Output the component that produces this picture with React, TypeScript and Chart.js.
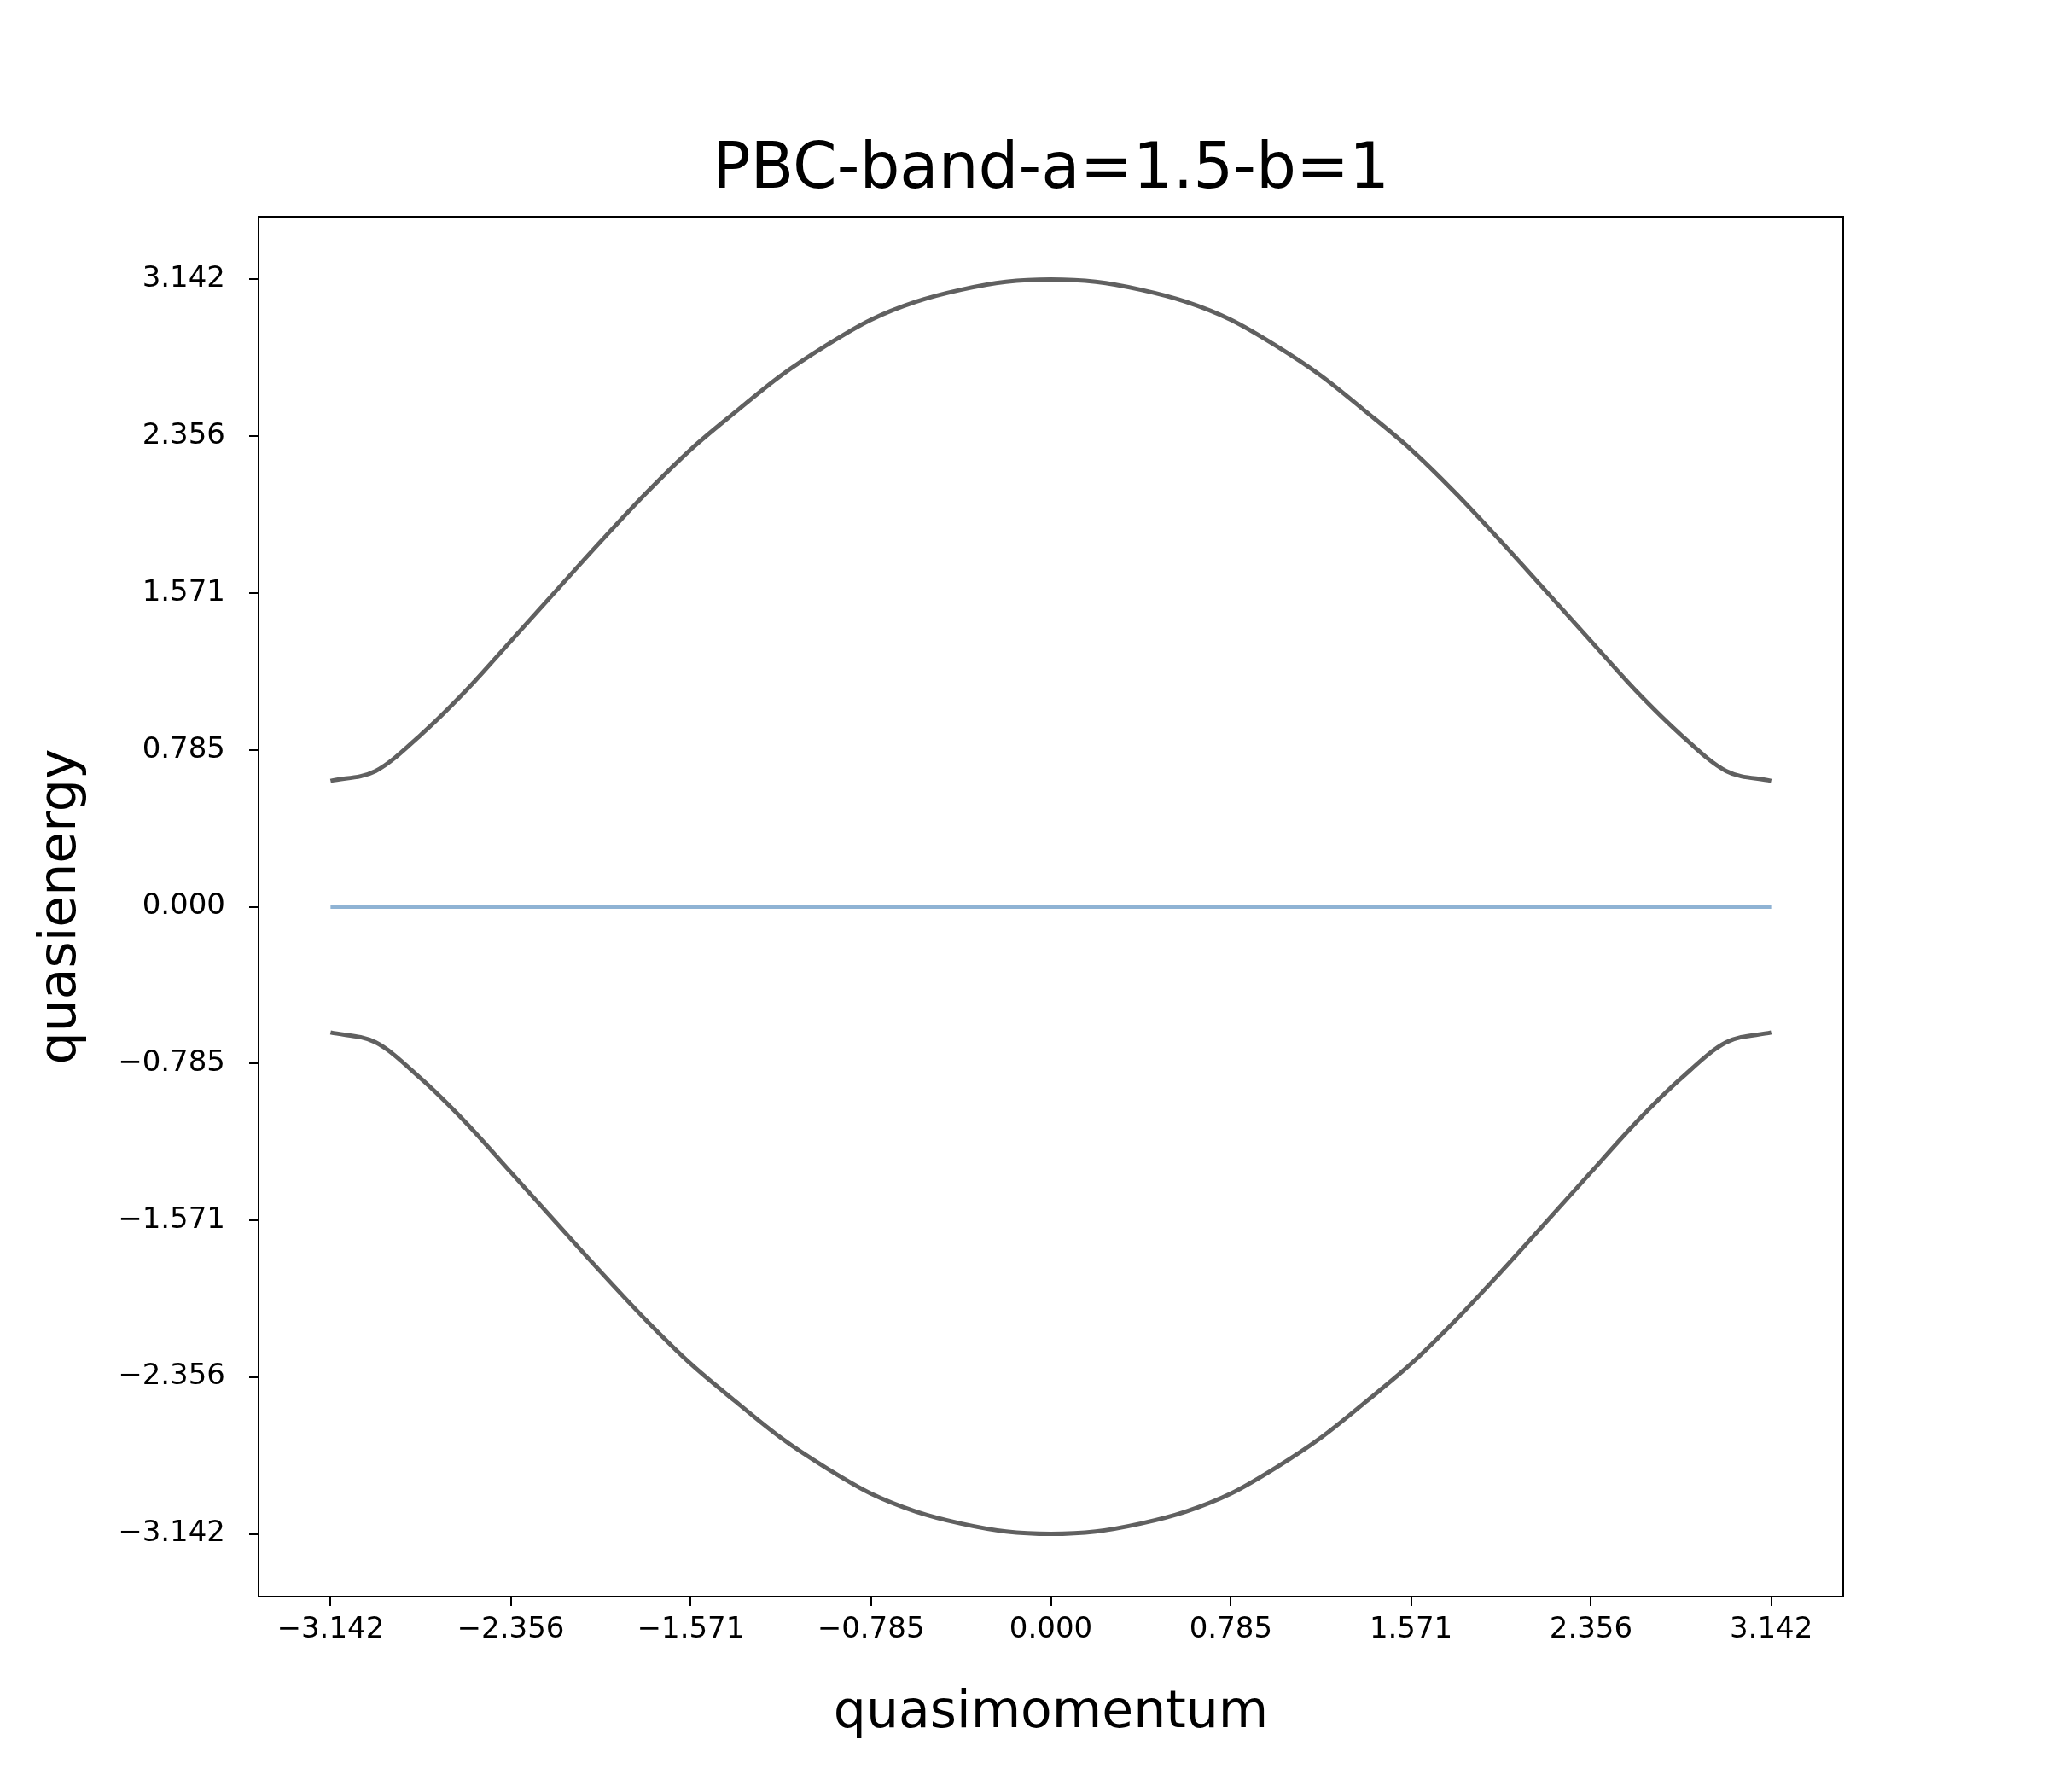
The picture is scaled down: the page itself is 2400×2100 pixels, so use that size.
import { useEffect, useRef } from "react";
import { Chart, registerables } from "chart.js";

Chart.register(...registerables);

const kValues = [
  -3.142, -2.945, -2.749, -2.553, -2.356, -2.16, -1.963, -1.767, -1.571, -1.374, -1.178, -0.982, -0.785, -0.589, -0.393, -0.196,
  0, 0.196, 0.393, 0.589, 0.785, 0.982, 1.178, 1.374, 1.571, 1.767, 1.963, 2.16, 2.356, 2.553, 2.749, 2.945, 3.142,
];
const upperBand = [
  0.63, 0.68, 0.86, 1.08, 1.33, 1.58, 1.83, 2.07, 2.29, 2.48, 2.66, 2.81, 2.94, 3.03, 3.09, 3.13,
  3.142, 3.13, 3.09, 3.03, 2.94, 2.81, 2.66, 2.48, 2.29, 2.07, 1.83, 1.58, 1.33, 1.08, 0.86, 0.68, 0.63,
];
const lowerBand = upperBand.map((v) => -v);
const flatBand = kValues.map(() => 0);
const tickValues = [-3.142, -2.356, -1.571, -0.785, 0, 0.785, 1.571, 2.356, 3.142];

const FONT = "'DejaVu Sans', sans-serif";

const fmt = (v: number) => (v < 0 ? "\u2212" + Math.abs(v).toFixed(3) : v.toFixed(3));

export default function App() {
  const ref = useRef<HTMLCanvasElement | null>(null);

  useEffect(() => {
    document.body.style.margin = "0";
    const ctx = ref.current!.getContext("2d")!;
    const pts = (ys: number[]) => kValues.map((x, i) => ({ x, y: ys[i] }));

    const decor = {
      id: "decor",
      afterDraw(chart: Chart) {
        const c = chart.ctx;
        const a = chart.chartArea;
        c.save();
        c.strokeStyle = "#000";
        c.lineWidth = 2;
        c.strokeRect(a.left, a.top, a.right - a.left, a.bottom - a.top);
        c.fillStyle = "#000";
        c.textAlign = "center";
        c.textBaseline = "middle";
        c.font = `74px ${FONT}`;
        c.fillText("PBC-band-a=1.5-b=1", (a.left + a.right) / 2, 201);
        c.font = `60px ${FONT}`;
        c.fillText("quasimomentum", (a.left + a.right) / 2, 2008);
        c.translate(72, (a.top + a.bottom) / 2);
        c.rotate(-Math.PI / 2);
        c.fillText("quasienergy", 0, 0);
        c.restore();
      },
    };

    const axis = (pos: "bottom" | "left") => ({
      type: "linear" as const,
      position: pos,
      min: -3.456,
      max: 3.456,
      afterBuildTicks: (s: any) => {
        s.ticks = tickValues.map((value) => ({ value }));
      },
      afterFit: (s: any) => {
        if (pos === "left") s.width = 303;
        else s.height = 229;
      },
      grid: { drawOnChartArea: false, tickLength: 11, color: "#000", lineWidth: 2 },
      border: { display: false },
      ticks: {
        color: "#000",
        font: { family: FONT, size: 34 },
        padding: pos === "left" ? 28 : 8,
        callback: (v: any) => fmt(Number(v)),
      },
    });

    const line = (data: number[], color: string) => ({
      data: pts(data),
      borderColor: color,
      borderWidth: 5,
      pointRadius: 0,
      cubicInterpolationMode: "monotone" as const,
    });

    const chart = new Chart(ctx, {
      type: "line",
      data: {
        datasets: [line(upperBand, "#606060"), line(flatBand, "#8fb3d4"), line(lowerBand, "#606060")],
      },
      options: {
        animation: false,
        responsive: false,
        devicePixelRatio: 1,
        layout: { padding: { top: 254, right: 240, left: 0, bottom: 0 } },
        plugins: { legend: { display: false }, tooltip: { enabled: false }, title: { display: false } },
        scales: { x: axis("bottom"), y: axis("left") },
      },
      plugins: [decor],
    });
    return () => chart.destroy();
  }, []);

  return (
    <div style={{ width: 2400, height: 2100, background: "#fff" }}>
      <canvas ref={ref} width={2400} height={2100} style={{ width: 2400, height: 2100 }} />
    </div>
  );
}
